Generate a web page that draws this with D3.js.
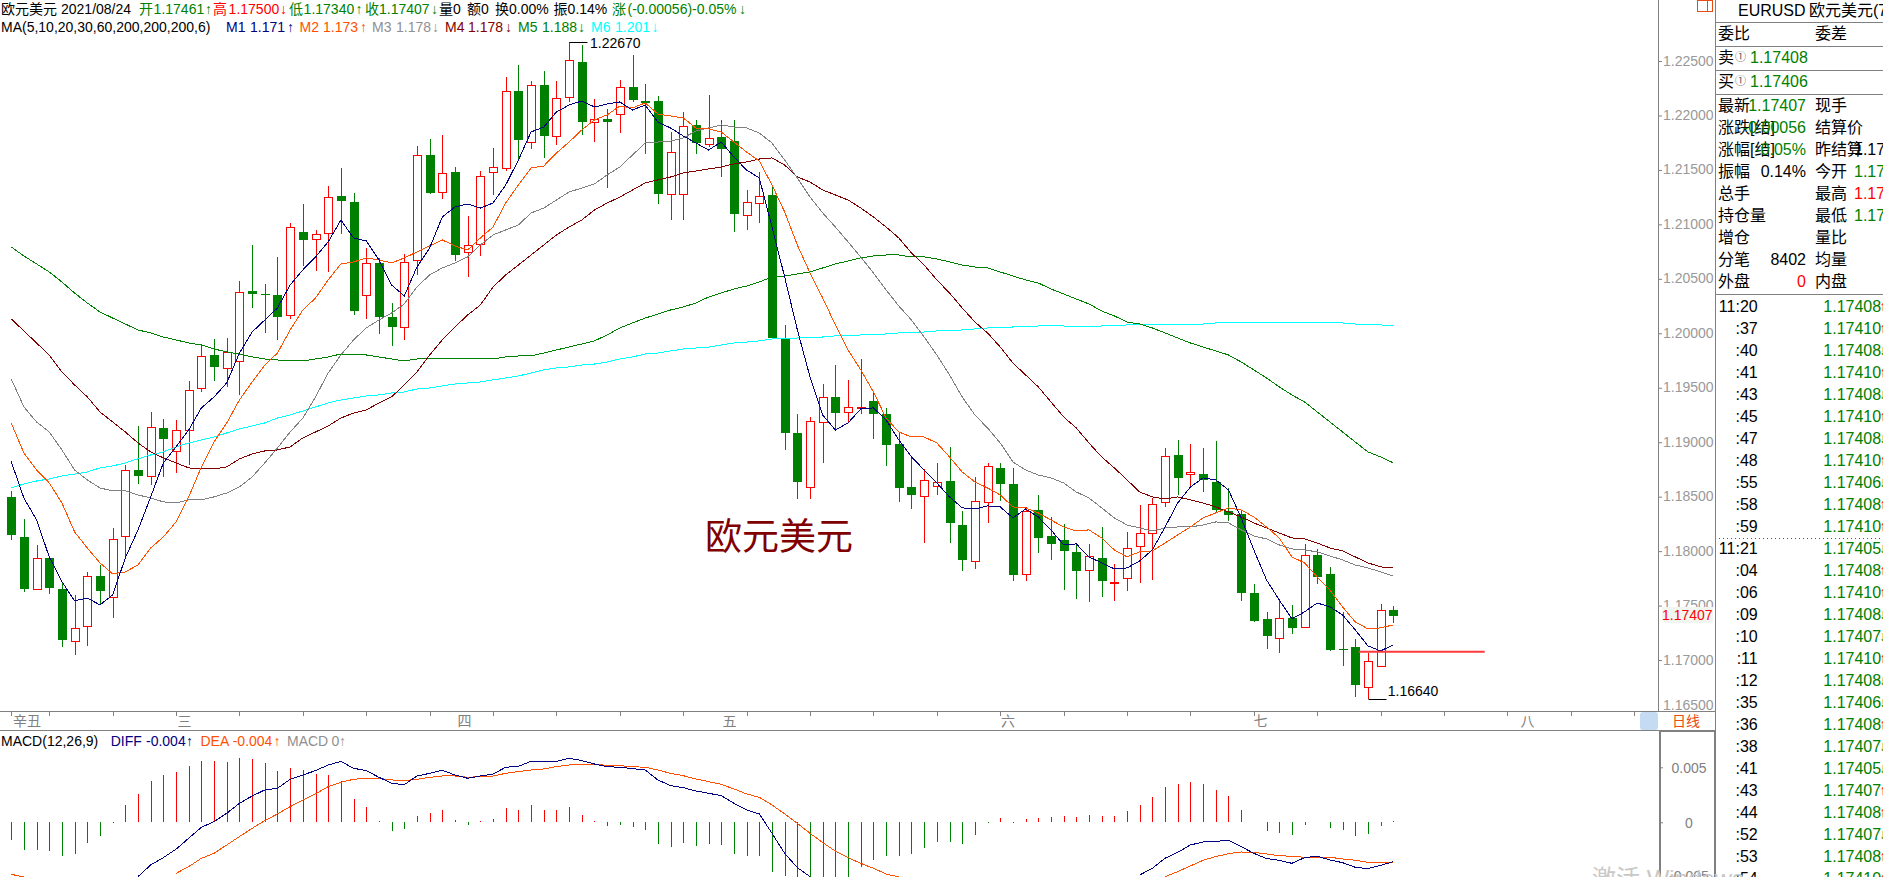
<!DOCTYPE html>
<html><head><meta charset="utf-8"><title>EURUSD</title>
<script src="https://cdn.jsdelivr.net/npm/d3@7/dist/d3.min.js"></script>
<style>
html,body{margin:0;padding:0;background:#fff;overflow:hidden}
svg{display:block}
text{font-family:"Liberation Sans","Noto Sans CJK SC",sans-serif;dominant-baseline:central}
</style></head><body><div id="chart"></div>
<script>
const opens=[1.18495,1.18128,1.1765,1.17938,1.1765,1.17182,1.17311,1.17772,1.17586,1.18146,1.18743,1.18688,1.19127,1.18913,1.19106,1.19495,1.19798,1.19675,1.19743,1.20389,1.20358,1.20352,1.20165,1.20931,1.2086,1.20918,1.21261,1.21206,1.20346,1.20646,1.20147,1.20056,1.2067,1.21641,1.21291,1.21479,1.2074,1.20814,1.21479,1.21511,1.22222,1.21763,1.2228,1.21818,1.22163,1.22491,1.21934,1.21965,1.22016,1.22259,1.22133,1.22133,1.21285,1.21285,1.2191,1.21745,1.21802,1.21763,1.21093,1.21203,1.2127,1.19947,1.19082,1.18583,1.19192,1.19412,1.19275,1.19321,1.19376,1.19257,1.18981,1.18587,1.18504,1.18605,1.18642,1.18238,1.17916,1.18449,1.18761,1.18614,1.17788,1.18375,1.18136,1.18099,1.17989,1.17823,1.17934,1.17708,1.1776,1.18045,1.18174,1.18458,1.18883,1.18712,1.18712,1.18635,1.18372,1.18341,1.17613,1.17375,1.1721,1.17384,1.17301,1.17966,1.17788,1.171,1.17118,1.1676,1.16949,1.17461];
const highs=[1.18555,1.18293,1.18057,1.17938,1.17705,1.17598,1.17809,1.17873,1.1821,1.18791,1.19149,1.19278,1.19213,1.19204,1.19562,1.19886,1.19949,1.19958,1.2048,1.20811,1.20453,1.20701,1.2101,1.21187,1.20949,1.21352,1.21518,1.21291,1.20781,1.20692,1.20276,1.20728,1.2172,1.21783,1.2182,1.2153,1.21077,1.2149,1.21701,1.22353,1.22463,1.22316,1.22408,1.22316,1.2267,1.22647,1.22151,1.22057,1.22326,1.22555,1.22289,1.22179,1.21851,1.22029,1.21959,1.22188,1.21959,1.21959,1.21316,1.21481,1.21355,1.20077,1.19259,1.19235,1.19535,1.19709,1.19572,1.19764,1.19449,1.19311,1.19082,1.18853,1.18755,1.18807,1.18959,1.18369,1.18684,1.18807,1.18812,1.18761,1.18408,1.18516,1.18316,1.18249,1.18057,1.18063,1.18222,1.17884,1.18179,1.18424,1.18491,1.18948,1.19021,1.18984,1.18948,1.19011,1.18577,1.18378,1.17699,1.17441,1.17543,1.17506,1.18066,1.1802,1.17855,1.17442,1.17191,1.17068,1.17515,1.175];
const lows=[1.18106,1.17628,1.1765,1.1761,1.17123,1.1705,1.17132,1.17506,1.1739,1.17959,1.18617,1.18608,1.18684,1.18721,1.18791,1.19464,1.19562,1.1951,1.19434,1.20233,1.2,1.19939,1.20134,1.20621,1.20575,1.20566,1.20912,1.20168,1.20132,1.19996,1.19883,1.19939,1.20536,1.21279,1.21233,1.20664,1.2052,1.2071,1.2127,1.21493,1.216,1.21695,1.21612,1.21729,1.22126,1.2182,1.21759,1.21337,1.21842,1.22126,1.21646,1.21191,1.2104,1.2104,1.21646,1.21714,1.21438,1.20933,1.20949,1.21016,1.1996,1.18926,1.18479,1.18479,1.18812,1.19112,1.19189,1.19259,1.1903,1.18785,1.18454,1.18385,1.18078,1.18516,1.18078,1.17822,1.1784,1.18256,1.18464,1.17729,1.17729,1.17981,1.17919,1.17644,1.17564,1.17531,1.17582,1.17546,1.17635,1.17711,1.17736,1.18408,1.18516,1.18577,1.18541,1.18347,1.1828,1.17546,1.17352,1.17102,1.17068,1.17237,1.17301,1.17699,1.17087,1.16946,1.16664,1.1664,1.16934,1.1734];
const closes=[1.18142,1.1765,1.17935,1.17665,1.17178,1.17298,1.1777,1.17637,1.18115,1.18748,1.18684,1.19137,1.19022,1.1911,1.19477,1.19789,1.19684,1.19826,1.20377,1.20364,1.20351,1.20153,1.20973,1.2086,1.20909,1.21249,1.21218,1.20208,1.20643,1.20153,1.20051,1.20653,1.21638,1.21291,1.21469,1.20719,1.20808,1.21441,1.21527,1.22222,1.21768,1.22282,1.21814,1.22163,1.22506,1.21943,1.21965,1.21934,1.22264,1.22142,1.22117,1.21282,1.21668,1.21906,1.21741,1.21796,1.21695,1.21089,1.21208,1.21263,1.1996,1.19088,1.18629,1.19192,1.19418,1.19262,1.19321,1.19327,1.19253,1.18968,1.18574,1.18509,1.18651,1.18638,1.18252,1.17913,1.18464,1.18779,1.1861,1.17775,1.18366,1.18115,1.18059,1.17994,1.17811,1.17952,1.1772,1.17714,1.18032,1.18164,1.18436,1.18877,1.18675,1.1873,1.18654,1.18378,1.18335,1.17619,1.17359,1.17215,1.1739,1.17295,1.17962,1.17767,1.17087,1.17093,1.16765,1.16995,1.17463,1.17407];
const ma1=[1.18822,1.18488,1.18286,1.17947,1.1772,1.17543,1.1757,1.17506,1.17598,1.17938,1.18195,1.18498,1.1881,1.18957,1.19112,1.19315,1.19416,1.19545,1.19819,1.20012,1.20122,1.20233,1.20444,1.20582,1.20701,1.20839,1.2104,1.20875,1.20848,1.20673,1.20444,1.20343,1.20609,1.20783,1.21068,1.2116,1.21187,1.2115,1.21196,1.21362,1.21591,1.21848,1.21894,1.22032,1.22096,1.22133,1.22078,1.22105,1.22124,1.2205,1.22096,1.2194,1.21885,1.21812,1.21747,1.21683,1.21756,1.21618,1.21499,1.21426,1.20976,1.20517,1.20031,1.19599,1.1925,1.19112,1.19177,1.19305,1.19315,1.19204,1.19021,1.18865,1.18745,1.18626,1.18498,1.18397,1.18387,1.18415,1.18406,1.18305,1.18387,1.18314,1.18195,1.18057,1.18066,1.17947,1.17892,1.17837,1.17846,1.1791,1.18011,1.18222,1.18442,1.18589,1.18672,1.18654,1.18562,1.18305,1.18011,1.17736,1.17552,1.17378,1.17442,1.17524,1.17488,1.17414,1.17277,1.1713,1.17084,1.17139];
const ma2=[1.19177,1.18901,1.18745,1.18626,1.18442,1.18176,1.18029,1.17892,1.17791,1.17809,1.17873,1.18029,1.1813,1.18268,1.18498,1.18773,1.19002,1.19177,1.19388,1.19553,1.19709,1.19819,1.20031,1.20214,1.20324,1.2049,1.20637,1.20655,1.20692,1.20673,1.20646,1.20692,1.20747,1.20802,1.20857,1.20802,1.20765,1.20875,1.20976,1.21196,1.21362,1.21518,1.21536,1.21655,1.21756,1.21867,1.21959,1.22005,1.22087,1.22069,1.22115,1.22014,1.21995,1.21977,1.21885,1.21876,1.21848,1.21756,1.21664,1.21582,1.21362,1.21114,1.20811,1.20554,1.20324,1.20077,1.19847,1.19664,1.19461,1.19222,1.19094,1.19048,1.19048,1.18993,1.18865,1.18727,1.18635,1.1858,1.18516,1.18406,1.18397,1.18351,1.18286,1.18222,1.18185,1.18195,1.18121,1.18011,1.17947,1.17993,1.18002,1.18075,1.18149,1.18222,1.18305,1.18351,1.18397,1.18378,1.18314,1.18222,1.18121,1.17947,1.17892,1.17763,1.17644,1.17488,1.1735,1.17286,1.17295,1.17323];
const ma3=[1.19581,1.19324,1.19186,1.19094,1.18929,1.18745,1.18654,1.1858,1.18553,1.18553,1.18516,1.18488,1.18452,1.18442,1.1847,1.1847,1.18498,1.18534,1.18589,1.18681,1.1881,1.18948,1.19094,1.19222,1.19416,1.19636,1.19801,1.19939,1.20049,1.20122,1.20186,1.20269,1.20425,1.20536,1.206,1.20646,1.20701,1.20811,1.20903,1.20949,1.20995,1.21105,1.2115,1.21224,1.21297,1.21334,1.21371,1.21454,1.21527,1.21637,1.21747,1.21756,1.21765,1.21793,1.21858,1.21885,1.21913,1.21894,1.21885,1.21839,1.21747,1.21591,1.21426,1.21251,1.21105,1.20976,1.20839,1.20701,1.20554,1.20398,1.20251,1.20122,1.19966,1.19801,1.19618,1.19416,1.1925,1.19131,1.18993,1.18819,1.18745,1.18699,1.18672,1.18626,1.18543,1.18488,1.18397,1.18305,1.1824,1.18213,1.18185,1.18213,1.18222,1.18222,1.1824,1.18268,1.18259,1.18195,1.18139,1.18112,1.18057,1.1802,1.18011,1.17993,1.17956,1.17919,1.17873,1.17846,1.17809,1.17772];
const ma4=[1.20132,1.20022,1.19911,1.19801,1.19645,1.19526,1.19416,1.19278,1.19186,1.19094,1.18993,1.18911,1.18856,1.1881,1.18764,1.18755,1.18755,1.18773,1.18847,1.18892,1.1892,1.18929,1.18957,1.19039,1.19094,1.19149,1.19222,1.19268,1.19296,1.1936,1.19416,1.19526,1.19645,1.19801,1.19939,1.20058,1.20168,1.2026,1.20425,1.20536,1.20627,1.20719,1.20811,1.20903,1.20976,1.2104,1.21132,1.21196,1.21251,1.21316,1.2138,1.21408,1.21435,1.21472,1.2149,1.21509,1.21527,1.21555,1.21573,1.216,1.2161,1.21545,1.21435,1.21389,1.21316,1.2127,1.21224,1.2115,1.21068,1.20976,1.20875,1.20738,1.20627,1.2049,1.2037,1.20233,1.20104,1.20003,1.19874,1.19727,1.19618,1.19508,1.1937,1.19232,1.19131,1.18993,1.18865,1.18764,1.18654,1.18543,1.18498,1.18479,1.18498,1.1847,1.18442,1.18406,1.1836,1.18314,1.18259,1.18213,1.18167,1.18121,1.18112,1.18075,1.18029,1.18002,1.17947,1.17892,1.17855,1.17846];
const ma5=[1.20793,1.2071,1.20637,1.20563,1.20471,1.2037,1.20278,1.20196,1.2014,1.20085,1.20031,1.20003,1.19966,1.19939,1.19911,1.19893,1.19856,1.19829,1.1981,1.19783,1.19764,1.19755,1.19746,1.19746,1.19764,1.19783,1.1981,1.19801,1.19801,1.19783,1.19764,1.19746,1.19764,1.19764,1.19764,1.19764,1.19764,1.19764,1.19764,1.19783,1.19792,1.19792,1.19819,1.19847,1.19874,1.19902,1.1993,1.19985,1.20049,1.20095,1.2014,1.20177,1.20214,1.20242,1.20278,1.20333,1.2037,1.20407,1.20434,1.20471,1.20517,1.20526,1.20545,1.20563,1.206,1.20637,1.20664,1.20692,1.2071,1.20719,1.20719,1.20701,1.20701,1.20683,1.20655,1.20627,1.20609,1.206,1.20563,1.20526,1.2049,1.20462,1.20407,1.20361,1.20315,1.20269,1.20205,1.20159,1.20104,1.20085,1.20049,1.20003,1.19957,1.19911,1.19874,1.19838,1.19801,1.19737,1.19664,1.1959,1.19508,1.19434,1.1937,1.19278,1.19186,1.19094,1.19002,1.18911,1.18865,1.1881];
const ma6=[1.1858,1.18617,1.18644,1.18663,1.1869,1.18708,1.18727,1.18764,1.18782,1.1881,1.18847,1.18883,1.18911,1.18957,1.18993,1.19021,1.19048,1.19085,1.19122,1.19149,1.19177,1.19222,1.1925,1.19287,1.19324,1.1936,1.19388,1.19406,1.19425,1.19434,1.19452,1.19461,1.19489,1.19498,1.19516,1.19535,1.19544,1.19553,1.19572,1.1959,1.19608,1.19636,1.19664,1.19682,1.19691,1.19709,1.19718,1.19737,1.19764,1.19783,1.1981,1.19819,1.19838,1.19856,1.19865,1.19874,1.19893,1.19911,1.1992,1.1993,1.19948,1.19948,1.19957,1.19957,1.19966,1.19976,1.19976,1.19985,1.19985,1.19994,1.20003,1.20003,1.20012,1.20022,1.20022,1.20031,1.2004,1.20049,1.20049,1.20058,1.20058,1.20067,1.20067,1.20067,1.20058,1.20058,1.20067,1.20067,1.20077,1.20077,1.20077,1.20077,1.20085,1.20085,1.20085,1.20095,1.20095,1.20095,1.20095,1.20095,1.20095,1.20095,1.20095,1.20095,1.20095,1.20095,1.20085,1.20077,1.20077,1.20067];
const macdBars=[-.00161,-.00251,-.00251,-.00261,-.00306,-.00288,-.00185,-.00124,-.00009,.00158,.00258,.00379,.0043,.00461,.00512,.00561,.00558,.00551,.00582,.00576,.00536,.00467,.00491,.00476,.00439,.0043,.00379,.00212,.00139,.00015,-.00076,-.00061,.00058,.00085,.00112,.00021,-.00021,.00009,.00033,.0013,.00112,.00158,.00112,.00112,.00139,.00067,.00012,-.0003,-.00021,-.00039,-.0007,-.00197,-.00221,-.00191,-.00215,-.002,-.00206,-.00288,-.00303,-.00303,-.00448,-.00488,-.0057,-.0056,-.0059,-.0056,-.0052,-.00409,-.00342,-.00306,-.00306,-.00288,-.0023,-.00179,-.00179,-.00197,-.00115,-.00006,.00039,-.00006,.0003,.00039,.00048,.00058,.00048,.00067,.00058,.00058,.00103,.00158,.0023,.00321,.00348,.00367,.00348,.00294,.00239,.00112,.00006,-.00079,-.00097,-.00115,-.00024,.00006,-.00052,-.0007,-.00124,-.00106,-.00033,.00015];
const _=null;
const diff=[_,_,_,_,_,_,_,_,_,_,-.00494,-.00388,-.00321,-.00245,-.00145,-.00045,.00006,.00082,.00173,.00239,.00294,.00309,.00391,.0043,.0047,.00521,.00554,.00491,.0047,.00409,.00355,.00342,.00421,.00445,.00473,.0043,.004,.00421,.00439,.005,.00509,.00554,.00551,.00554,.00582,.00561,.0053,.00506,.005,.00488,.00476,.00385,.00333,.00315,.00285,.00264,.00242,.00173,.00112,.00076,-.001,-.00282,-.00412,-.00494,_,_,_,_,_,_,_,_,_,_,_,_,_,_,_,_,_,_,_,_,_,_,_,_,_,-.00479,-.00418,-.00327,-.00273,-.00206,-.00179,-.00173,-.00164,-.00221,-.00282,-.0033,-.00345,-.00373,-.00321,-.00309,-.00342,-.00367,-.00409,-.00421,-.00391,-.00358];
const dea=[-.00473,-.00497,_,_,_,_,_,_,_,_,_,_,_,-.00464,-.00403,-.00327,-.00282,-.00206,-.0013,-.00055,.00015,.00076,.00142,.00203,.00258,.00324,.00364,.00391,.004,.004,.00385,.00379,.00391,.00409,.00421,.00421,.00409,.00415,.00421,.00445,.00461,.00476,.00485,.00506,.00521,.00527,.00527,.00518,.00515,.00506,.005,.00476,.00445,.00424,.00394,.0037,.00345,.00303,.00258,.00227,.00158,.00076,-.00009,-.001,-.00185,-.00261,-.00321,-.00373,-.00418,-.0047,-.00497,_,_,_,_,_,_,_,_,_,_,_,_,_,_,_,_,_,_,_,_,-.00494,-.00448,-.00397,-.00345,-.00312,-.00285,-.0027,-.00273,-.00288,-.00303,-.00309,-.00318,-.00318,-.00318,-.00333,-.00345,-.00364,-.00367,-.00364];
const priceTicks=[1.165,1.17,1.175,1.18,1.185,1.19,1.195,1.2,1.205,1.21,1.215,1.22,1.225];
const macdTicks=[-.005,0,.005];
const lastPrice=1.17407, priceLine=1.17077;
const axisLabels=[["辛丑",13],["三",177.5],["四",457.6],["五",722.4],["六",1001],["七",1253.5],["八",1520.4]];
const titleRow=[["欧元美元","#000"],["2021/08/24","#000"],["开","#008000"],["1.17461","#008000"],["↑","#008000"],["高","#f00"],["1.17500","#f00"],["↓","#f00"],["低","#008000"],["1.17340","#008000"],["↑","#008000"],["收","#008000"],["1.17407","#008000"],["↓","#008000"],["量0","#000"],["额0","#000"],["换0.00%","#000"],["振0.14%","#000"],["涨","#008000"],["(-0.00056)-0.05%","#008000"],["↓","#008000"]];
const titleX=[1,61,139,153.6,205,213,228.6,280,289,303.6,355.6,365,379,431,439,467,495,553.6,612,627.5,739];
const maRow=[["MA(5,10,20,30,60,200,200,200,6)","#000"],["M1","#000080"],["1.171","#000080"],["↑","#000080"],["M2","#ff5000"],["1.173","#ff5000"],["↑","#ff5000"],["M3","#909090"],["1.178","#909090"],["↓","#909090"],["M4","#800000"],["1.178","#800000"],["↓","#800000"],["M5","#008000"],["1.188","#008000"],["↓","#008000"],["M6","#00ffff"],["1.201","#00ffff"],["↓","#00ffff"]];
const maX=[1,226,250,287,299.5,323,360,372,396,432,445,468,505,518,542,578,591,615,651.5];
const macdRow=[["MACD(12,26,9)","#000"],["DIFF","#000080"],["-0.004","#000080"],["↑","#000080"],["DEA","#ff5000"],["-0.004","#ff5000"],["↑","#ff5000"],["MACD","#909090"],["0","#909090"],["↑","#909090"]];
const macdX=[1,110.7,146,186,200.5,232.7,273.5,287,331.6,339];
const quoteLeft=[["最新","1.17407","#008000"],["涨跌[结]","-0.00056","#008000"],["涨幅[结]","-0.05%","#008000"],["振幅","0.14%","#000"],["总手","",""],["持仓量","",""],["增仓","",""],["分笔","8402","#000"],["外盘","0","#f00"]];
const quoteRight=[["现手","",""],["结算价","",""],["昨结算","1.17463","#000"],["今开","1.17461","#008000"],["最高","1.17500","#f00"],["最低","1.17340","#008000"],["量比","",""],["均量","",""],["内盘","",""]];
const tickTimes=["11:20",":37",":40",":41",":43",":45",":47",":48",":55",":58",":59","11:21",":04",":06",":09",":10",":11",":12",":35",":36",":38",":41",":43",":44",":52",":53",":54"];
const tickPrices=[1.17408,1.1741,1.17408,1.1741,1.17408,1.1741,1.17408,1.1741,1.17406,1.17408,1.1741,1.17405,1.17408,1.1741,1.17408,1.17407,1.1741,1.17408,1.17406,1.17408,1.17407,1.17405,1.17407,1.17408,1.17407,1.17408,1.1741];
const tickDirs=["u","u","d","u","d","u","d","u","d","u","u","d","u","u","d","d","u","d","d","u","d","d","u","u","d","u","u"];

const W=1883,H=877,RED="#ff0000",GRN="#008000",GRAY="#808080",ORG="#e84c10";
const svg=d3.select("#chart").append("svg").attr("width",W).attr("height",H);
const x=d3.scaleLinear().domain([0,109]).range([11.2,1393.3]);
const y=d3.scaleLinear().domain([1.165,1.225]).range([714.5,61]);
const ym=d3.scaleLinear().domain([-.005,.005]).range([877.3,767.3]);
const px=i=>Math.round(x(i))+.5;
const f5=d3.format(".5f");
function txt(g,X,Y,s,c,size,anchor){return g.append("text").attr("x",X).attr("y",Y).attr("fill",c).attr("font-size",size||14).attr("text-anchor",anchor||"start").text(s);}
function hline(g,x1,x2,Y,c,w){g.append("line").attr("x1",x1).attr("x2",x2).attr("y1",Y).attr("y2",Y).attr("stroke",c).attr("stroke-width",w||1);}
function vline(g,X,y1,y2,c,w){g.append("line").attr("x1",X).attr("x2",X).attr("y1",y1).attr("y2",y2).attr("stroke",c).attr("stroke-width",w||1);}

const defs=svg.append("defs");
defs.append("clipPath").attr("id","pmain").append("rect").attr("x",0).attr("y",0).attr("width",1658).attr("height",711);
defs.append("clipPath").attr("id","pmacd").append("rect").attr("x",0).attr("y",732).attr("width",1658).attr("height",145);

const head=svg.append("g");
titleRow.forEach((d,i)=>txt(head,titleX[i],9,d[0],d[1]));
maRow.forEach((d,i)=>txt(head,maX[i],27,d[0],d[1]));
macdRow.forEach((d,i)=>txt(head,macdX[i],741,d[0],d[1]));

const idx=d3.range(opens.length);
const main=svg.append("g").attr("clip-path","url(#pmain)");
const col=i=>closes[i]>opens[i]?RED:GRN;
const cg=main.append("g").attr("shape-rendering","crispEdges");
cg.selectAll("line.w").data(idx).join("line").attr("class","w")
  .attr("x1",px).attr("x2",px).attr("y1",i=>y(highs[i])).attr("y2",i=>y(lows[i])).attr("stroke",col);
cg.selectAll("rect.b").data(idx).join("rect").attr("class","b")
  .attr("x",i=>closes[i]>opens[i]?px(i)-4:px(i)-4.5)
  .attr("width",i=>closes[i]>opens[i]?8:9)
  .attr("y",i=>Math.round(y(Math.max(opens[i],closes[i])))+(closes[i]>opens[i]?.5:0))
  .attr("height",i=>Math.max(1,Math.round(Math.abs(y(opens[i])-y(closes[i])))))
  .attr("fill",i=>closes[i]>opens[i]?"#fff":GRN)
  .attr("stroke",i=>closes[i]>opens[i]?RED:"none");

const maSeries=[[ma6,"#00ffff",1],[ma5,"#008000",1],[ma4,"#800000",1],[ma3,"#808080",1],[ma2,"#ff5000",1],[ma1,"#000080",1]];
const line=d3.line().x((d,i)=>x(i)).y(d=>y(d));
main.append("g").attr("shape-rendering","crispEdges").selectAll("path.ma").data(maSeries).join("path").attr("class","ma").attr("fill","none")
  .attr("d",d=>line(d[0])).attr("stroke",d=>d[1]).attr("stroke-width",d=>d[2]);

const hiI=d3.range(highs.length).reduce((a,b)=>highs[b]>highs[a]?b:a,0);
const loI=d3.range(lows.length).reduce((a,b)=>lows[b]<lows[a]?b:a,0);
hline(main,px(hiI),px(hiI)+18,Math.round(y(highs[hiI]))+.5,"#000");
txt(main,590,y(highs[hiI])+.5,f5(highs[hiI]),"#000");
hline(main,px(loI),px(loI)+18,Math.round(y(lows[loI]))+.5,"#000");
txt(main,1387.8,y(lows[loI])-8,f5(lows[loI]),"#000");
hline(main,1358.7,1484.7,y(priceLine),"#ff3a3a",2);
txt(main,705,537.5,"欧元美元","#800000",37);

const axisG=svg.append("g").attr("transform","translate(1659,0)");
axisG.call(d3.axisRight(y).tickValues(priceTicks).tickFormat(f5).tickSize(3).tickPadding(1));
axisG.select(".domain").remove();
axisG.selectAll(".tick line").attr("stroke",GRAY);
axisG.selectAll(".tick text").attr("fill","#999").attr("font-size",14).attr("font-family",null).attr("dy",null).attr("y",-1);
axisG.selectAll(".tick").filter(d=>d===1.165).each(function(){d3.select(this).select("line").remove();d3.select(this).select("text").attr("y",-10.5);});
vline(svg,1658.5,0,711,GRAY);
svg.append("path").attr("d","M1662 607H1713V623H1665L1662 619Z").attr("fill","#f1f7f0");
txt(svg,1662,615,f5(lastPrice),"#f00");
svg.append("rect").attr("x",1697.5).attr("y",.5).attr("width",15).attr("height",11).attr("fill","none").attr("stroke",ORG);
vline(svg,1707.5,0,11,ORG);

svg.append("rect").attr("x",1640).attr("y",712).attr("width",18).attr("height",18).attr("rx",3).attr("fill","#c5daf3");
hline(svg,0,1716,711.5,GRAY);
hline(svg,0,1716,730.5,GRAY);
const tg=svg.append("g").attr("shape-rendering","crispEdges");
tg.selectAll("line").data([0].concat(d3.range(3,129,5))).join("line")
  .attr("x1",px).attr("x2",px).attr("y1",712).attr("y2",716).attr("stroke",GRAY);
axisLabels.forEach(d=>txt(svg,d[1],721,d[0],GRAY,14));
txt(svg,1672,721,"日线",ORG,14);

const mg=svg.append("g").attr("clip-path","url(#pmacd)");
const bars=mg.append("g").attr("shape-rendering","crispEdges");
bars.selectAll("line").data(idx).join("line")
  .attr("x1",px).attr("x2",px).attr("y1",ym(0)).attr("y2",i=>ym(macdBars[i]))
  .attr("stroke",i=>macdBars[i]>=0?RED:GRN);
const ml=d3.line().defined(d=>d!==null).x((d,i)=>x(i)).y(d=>ym(d));
const mlines=mg.append("g").attr("shape-rendering","crispEdges");
[[dea,"#ff5000"],[diff,"#000080"]].forEach(s=>mlines.append("path").attr("fill","none").attr("stroke",s[1]).attr("stroke-width",1).attr("d",ml(s[0])));
svg.append("rect").attr("x",1660).attr("y",731).attr("width",55).attr("height",160).attr("fill","none").attr("stroke",GRAY).attr("stroke-width",2);
const macdAxis=svg.append("g").attr("transform","translate(1660,0)");
macdAxis.call(d3.axisRight(ym).tickValues(macdTicks).tickFormat(d=>d===0?"0":d3.format(".3f")(d).replace("−","-")).tickSize(3).tickPadding(0));
macdAxis.select(".domain").remove();
macdAxis.selectAll(".tick line").attr("stroke",GRAY);
macdAxis.selectAll(".tick text").attr("fill",GRAY).attr("font-size",14).attr("font-family",null).attr("dy",null).attr("text-anchor","middle").attr("x",29);
macdAxis.selectAll(".tick").filter(d=>d===-.005).select("text").attr("y",-2);

const rp=svg.append("g");
vline(rp,1715.5,0,H,GRAY);
[22.5,46.5,70.5,94.5,294.5].forEach(Y=>hline(rp,1716,W,Y,GRAY));
txt(rp,1738,10,"EURUSD",'#000',16);
txt(rp,1809,10,"欧元美元(7","#000",16);
txt(rp,1718,33,"委比","#000",16);
txt(rp,1815,33,"委差","#000",16);
txt(rp,1718,57,"卖","#000",16);txt(rp,1735,57,"①","#555",11);txt(rp,1750,57,"1.17408",GRN,16);
txt(rp,1718,81,"买","#000",16);txt(rp,1735,81,"①","#555",11);txt(rp,1750,81,"1.17406",GRN,16);
quoteLeft.forEach((d,i)=>{const Y=105.3+22*i;txt(rp,1718,Y,d[0],"#000",16);if(d[1])txt(rp,1806,Y,d[1],d[2],16,"end");});
quoteRight.forEach((d,i)=>{const Y=105.3+22*i;txt(rp,1815,Y,d[0],"#000",16);if(d[1])txt(rp,1854,Y,d[1],d[2],16);});
tickTimes.forEach((t,i)=>{const Y=306+22*i;
  txt(rp,1757.7,Y,t,"#000",16,"end");
  txt(rp,1823.3,Y,f5(tickPrices[i]),GRN,16);
  txt(rp,1879.5,Y,tickDirs[i]==="u"?"↑":"↓",tickDirs[i]==="u"?RED:GRN,14);
});
rp.append("line").attr("x1",1719).attr("x2",1880).attr("y1",538.5).attr("y2",538.5).attr("stroke","#555").attr("stroke-dasharray","1 3");

txt(svg,1592,878,"激活 Windows","#c8c8c8",24);
</script></body></html>
